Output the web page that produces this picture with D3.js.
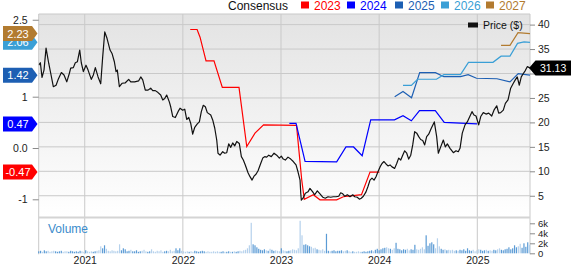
<!DOCTYPE html>
<html><head><meta charset="utf-8">
<script src="https://cdn.jsdelivr.net/npm/d3@7"></script>
<style>body{margin:0;background:#fff;}svg{display:block;font-family:"Liberation Sans",Arial,sans-serif;}</style>
</head><body><svg id="c" width="571" height="264"></svg>
<script>
// ---- data (time in decimal years) ----
const priceData = [[2020.531,31.7],[2020.548,32.2],[2020.565,29.2],[2020.585,30.7],[2020.606,35.2],[2020.633,32.1],[2020.654,30.0],[2020.680,27.3],[2020.708,27.6],[2020.728,28.7],[2020.762,30.2],[2020.789,29.7],[2020.817,28.3],[2020.843,30.0],[2020.857,31.1],[2020.884,31.2],[2020.904,32.2],[2020.925,32.4],[2020.949,34.8],[2020.965,32.2],[2020.986,30.4],[2021.013,31.7],[2021.034,30.7],[2021.067,28.8],[2021.088,29.7],[2021.108,31.2],[2021.136,29.3],[2021.163,27.9],[2021.183,33.4],[2021.204,38.5],[2021.227,37.2],[2021.258,34.8],[2021.278,34.1],[2021.302,32.4],[2021.319,30.4],[2021.332,30.7],[2021.353,27.3],[2021.380,28.0],[2021.414,28.1],[2021.448,28.8],[2021.469,28.3],[2021.509,28.3],[2021.550,28.5],[2021.571,29.3],[2021.591,28.7],[2021.617,26.6],[2021.645,26.6],[2021.672,27.0],[2021.693,26.5],[2021.719,26.5],[2021.747,26.1],[2021.774,25.6],[2021.795,24.6],[2021.815,24.9],[2021.835,25.6],[2021.862,24.2],[2021.876,23.2],[2021.897,21.2],[2021.923,21.0],[2021.951,22.2],[2021.971,22.9],[2021.998,22.5],[2022.019,22.7],[2022.039,20.6],[2022.060,21.0],[2022.080,19.8],[2022.100,17.6],[2022.121,19.0],[2022.147,19.7],[2022.168,20.1],[2022.188,22.2],[2022.208,23.5],[2022.229,23.2],[2022.249,22.0],[2022.284,21.5],[2022.304,20.5],[2022.325,18.8],[2022.345,16.4],[2022.358,13.7],[2022.379,13.3],[2022.406,14.0],[2022.426,13.7],[2022.447,13.8],[2022.467,15.6],[2022.488,14.9],[2022.508,15.8],[2022.528,15.2],[2022.549,16.1],[2022.575,15.7],[2022.596,13.0],[2022.616,12.3],[2022.636,11.3],[2022.664,9.7],[2022.684,8.9],[2022.705,8.2],[2022.725,9.0],[2022.745,9.4],[2022.766,10.1],[2022.793,11.6],[2022.814,12.7],[2022.834,13.0],[2022.854,12.9],[2022.875,13.3],[2022.901,13.0],[2022.929,13.7],[2022.956,13.3],[2022.983,12.7],[2023.003,13.1],[2023.023,12.5],[2023.044,12.3],[2023.071,12.9],[2023.099,12.5],[2023.125,12.0],[2023.153,11.3],[2023.173,9.9],[2023.194,8.2],[2023.201,5.5],[2023.207,4.1],[2023.224,4.5],[2023.248,5.5],[2023.275,5.8],[2023.295,6.5],[2023.323,5.8],[2023.343,5.2],[2023.370,6.0],[2023.397,5.4],[2023.425,4.7],[2023.451,4.5],[2023.479,4.8],[2023.506,4.7],[2023.533,4.8],[2023.560,4.8],[2023.588,4.9],[2023.608,5.6],[2023.629,5.4],[2023.649,4.9],[2023.676,5.2],[2023.703,4.8],[2023.731,5.2],[2023.751,4.8],[2023.777,4.7],[2023.798,4.3],[2023.818,4.5],[2023.839,4.9],[2023.866,5.8],[2023.886,6.9],[2023.907,8.2],[2023.927,8.6],[2023.948,8.2],[2023.968,8.9],[2023.988,9.9],[2024.009,10.9],[2024.029,11.6],[2024.049,12.0],[2024.070,11.5],[2024.090,11.1],[2024.111,11.3],[2024.131,10.9],[2024.158,10.6],[2024.179,11.6],[2024.199,12.7],[2024.220,12.3],[2024.240,13.3],[2024.260,14.2],[2024.281,13.7],[2024.301,12.5],[2024.322,13.3],[2024.342,15.4],[2024.362,18.1],[2024.383,17.8],[2024.403,17.1],[2024.423,16.5],[2024.444,16.3],[2024.464,15.4],[2024.484,17.1],[2024.505,17.6],[2024.531,18.8],[2024.562,20.1],[2024.586,17.1],[2024.603,13.7],[2024.627,15.0],[2024.654,16.4],[2024.674,15.0],[2024.695,15.6],[2024.722,14.7],[2024.756,13.8],[2024.783,14.2],[2024.806,14.0],[2024.824,14.7],[2024.847,17.8],[2024.875,19.5],[2024.898,20.1],[2024.926,21.3],[2024.946,22.2],[2024.966,21.5],[2024.987,21.3],[2025.014,19.5],[2025.035,21.2],[2025.061,22.0],[2025.089,21.7],[2025.116,21.9],[2025.147,21.3],[2025.170,22.5],[2025.198,23.4],[2025.218,21.9],[2025.238,22.0],[2025.265,22.5],[2025.286,23.9],[2025.313,24.6],[2025.340,27.0],[2025.367,28.0],[2025.387,28.7],[2025.407,29.3],[2025.428,27.6],[2025.448,29.3],[2025.469,30.0],[2025.489,30.6],[2025.509,31.4],[2025.537,31.13]];

const eps2023 = [[2022.075,2.31],[2022.145,2.31],[2022.175,2.16],[2022.236,1.70],[2022.317,1.70],[2022.402,1.18],[2022.572,1.18],[2022.651,0.03],[2022.735,0.29],[2022.822,0.45],[2023.158,0.44],[2023.211,-0.62],[2023.237,-1.00],[2023.329,-0.91],[2023.397,-1.01],[2023.567,-1.01],[2023.635,-0.95],[2023.820,-0.91],[2023.907,-0.47],[2024.002,-0.47]];
const eps2024 = [[2023.085,0.48],[2023.153,0.48],[2023.245,-0.26],[2023.567,-0.27],[2023.662,0.02],[2023.739,0.02],[2023.827,-0.15],[2023.914,0.55],[2024.156,0.55],[2024.243,0.63],[2024.328,0.53],[2024.411,0.73],[2024.572,0.73],[2024.663,0.50],[2024.997,0.47]];
const eps2025 = [[2024.158,1.00],[2024.243,1.10],[2024.330,0.98],[2024.413,1.47],[2024.574,1.47],[2024.659,1.39],[2024.829,1.39],[2024.907,1.43],[2024.992,1.36],[2025.201,1.35],[2025.333,1.29],[2025.417,1.45],[2025.537,1.42]];
const eps2026 = [[2024.243,1.22],[2024.328,1.22],[2024.391,1.34],[2024.584,1.34],[2024.659,1.43],[2024.829,1.43],[2024.910,1.67],[2025.160,1.67],[2025.242,1.79],[2025.333,1.79],[2025.410,2.04],[2025.476,2.07],[2025.537,2.06]];
const eps2027 = [[2025.242,2.00],[2025.333,2.00],[2025.415,2.25],[2025.537,2.23]];

const seriesNames = ["2023","2024","2025","2026","2027"];
const seriesColors = ["#ff0000","#0000ff","#1d5fb3","#3a9fd6","#b27b30"];
const lastEps = ["-0.47","0.47","1.42","2.06","2.23"];
const lastEpsVal = [-0.47,0.47,1.42,2.06,2.23];
const lastPrice = 31.13;

// weekly volume (thousands), first week at 2020.531
const volStart = 2020.531, volWeek = 1/52.18;
const volume = [0.4,0.5,0.3,0.6,0.4,0.5,0.3,0.4,0.5,0.4,0.3,0.4,0.5,0.3,0.4,0.4,0.3,0.5,0.4,0.3,
0.4,0.3,0.5,0.4,0.3,0.6,0.4,0.3,0.4,0.3,0.4,0.5,0.6,1.4,1.0,1.6,0.9,0.5,0.4,0.6,
0.5,0.4,0.5,1.8,0.6,1.0,0.8,0.4,0.5,0.7,0.4,0.4,0.6,0.3,0.4,0.5,0.7,0.4,0.3,0.4,
0.8,0.4,0.3,0.5,0.4,0.6,0.3,0.4,0.5,0.4,0.7,0.4,0.5,1.0,0.6,1.0,0.5,0.4,0.3,0.4,
0.3,0.4,0.3,0.5,0.4,0.3,0.4,0.5,0.4,0.3,0.4,0.3,0.3,0.4,0.3,0.4,0.3,0.3,0.4,0.3,
0.3,0.4,0.3,0.3,0.4,0.3,0.4,0.5,0.4,0.6,0.7,1.0,1.6,6.1,1.8,1.6,1.2,0.9,0.7,0.6,
0.8,0.6,0.5,0.9,0.7,0.5,0.6,0.5,0.4,1.0,0.6,0.5,0.4,0.5,0.6,0.8,0.7,0.6,1.0,6.5,
3.6,1.7,1.8,1.6,1.4,1.3,1.0,1.1,0.8,0.7,0.6,0.8,0.5,3.9,0.5,0.4,0.5,0.6,0.4,0.5,
0.5,0.6,0.4,0.5,0.6,0.4,0.3,0.4,0.3,0.3,0.4,0.3,0.3,0.4,0.3,0.4,0.5,0.6,0.4,0.7,
0.9,0.6,0.8,1.0,1.1,1.2,1.0,0.9,0.7,1.0,2.1,0.9,0.8,0.6,0.8,0.7,0.9,0.6,0.8,0.7,
1.7,0.8,0.7,0.9,1.2,0.8,3.6,1.5,2.0,2.2,1.8,1.0,3.0,1.4,0.9,0.7,0.8,0.6,0.7,0.6,
0.7,0.5,0.6,0.5,0.7,0.6,0.8,0.5,1.0,0.6,0.5,0.7,0.4,0.6,0.8,0.7,0.5,0.6,0.7,0.5,
0.6,0.5,0.7,0.6,0.8,1.0,0.7,0.6,0.8,0.9,1.2,0.8,1.0,1.6,1.2,1.4,1.9,1.1,2.0,1.3,2.2,1.7];

const years = [2021,2022,2023,2024,2025];
const priceTicks = [5,10,15,20,25,30,35,40];
const priceTickLabels = ["5","10","15","20","25","","35","40"]; // 30 hidden under the price badge
const epsTicks = [-1,0,1,2.5];
const epsTickLabels = ["-1","0.0","1","2.5"];
const volTicks = [0,2,4,6];
const volTickLabels = ["0","2k","4k","6k"];

// ---- layout ----
const L = 38.7, R = 530, T = 14, MB = 217, VB = 253.3;
const svg = d3.select("#c");
const x = d3.scaleLinear().domain([2020.531, 2025.537]).range([L, R]);
const yP = d3.scaleLinear().domain([0, 40]).range([220.2, 24.6]);
const yE = d3.scaleLinear().domain([-1, 1]).range([199.3, 96.7]);
const yV = d3.scaleLinear().domain([0, 6]).range([VB, VB - 30]);

const defs = svg.append("defs");
const g = defs.append("linearGradient").attr("id","bg").attr("x1",0).attr("y1",0).attr("x2",0).attr("y2",1);
g.append("stop").attr("offset","0%").attr("stop-color","#e3e3e3");
g.append("stop").attr("offset","100%").attr("stop-color","#ffffff");
defs.append("clipPath").attr("id","clipM").append("rect").attr("x",L).attr("y",T).attr("width",R-L).attr("height",MB-T);

svg.append("rect").attr("x",L).attr("y",T).attr("width",R-L).attr("height",MB-T).attr("fill","url(#bg)");

const gridC = "#c9c9c9";
svg.append("g").selectAll("line").data(priceTicks).join("line")
  .attr("x1",L).attr("x2",R).attr("y1",d=>yP(d)).attr("y2",d=>yP(d))
  .attr("stroke",gridC).attr("stroke-width",1);
svg.append("g").selectAll("line").data(years).join("line")
  .attr("x1",d=>x(d)).attr("x2",d=>x(d)).attr("y1",T).attr("y2",VB+1)
  .attr("stroke",gridC).attr("stroke-width",1);
// borders
svg.append("line").attr("x1",L).attr("x2",R).attr("y1",T).attr("y2",T).attr("stroke",gridC);
svg.append("line").attr("x1",L).attr("x2",L).attr("y1",T).attr("y2",VB+1).attr("stroke",gridC);
svg.append("line").attr("x1",R).attr("x2",R).attr("y1",T).attr("y2",VB+1).attr("stroke",gridC);
svg.append("line").attr("x1",L).attr("x2",R).attr("y1",MB+0.5).attr("y2",MB+0.5).attr("stroke","#d4d4d4").attr("stroke-width",2);

// volume bars
const priceAt = t => {
  const i = d3.bisector(d=>d[0]).left(priceData, t);
  if (i<=0) return priceData[0][1];
  if (i>=priceData.length) return priceData[priceData.length-1][1];
  const a = priceData[i-1], b = priceData[i];
  return a[1] + (b[1]-a[1])*(t-a[0])/(b[0]-a[0]);
};
const volData = volume.map((v,i)=>({t: volStart + i*volWeek, v}));
svg.append("g").selectAll("rect").data(volData).join("rect")
  .attr("x",d=>x(d.t)-0.6).attr("width",1.2)
  .attr("y",d=>yV(d.v)).attr("height",d=>VB-yV(d.v))
  .attr("fill",d=> priceAt(d.t) >= priceAt(d.t - volWeek) ? "#5b9bd5" : "#b5d1ec");

svg.append("text").attr("x",48).attr("y",233).attr("font-size",12).attr("fill","#3a8bcb").text("Volume");

// lines
const lineG = svg.append("g").attr("clip-path","url(#clipM)");
const eLine = d3.line().x(d=>x(d[0])).y(d=>yE(d[1]));
[eps2023,eps2024,eps2025,eps2026,eps2027].forEach((s,i)=>{
  lineG.append("path").datum(s).attr("d",eLine).attr("fill","none")
    .attr("stroke",seriesColors[i]).attr("stroke-width",1.2);
});
lineG.append("path").datum(priceData).attr("d",d3.line().x(d=>x(d[0])).y(d=>yP(d[1])))
  .attr("fill","none").attr("stroke","#111").attr("stroke-width",1.2).attr("stroke-linejoin","round");

// axes
function styleAxis(sel, fs){
  sel.select(".domain").remove();
  sel.selectAll(".tick line").attr("stroke","#8a8a8a");
  sel.selectAll(".tick text").attr("fill","#222").attr("font-size",fs||10.5).attr("font-family","'Liberation Sans',Arial,sans-serif");
}
svg.append("g").attr("transform",`translate(${R},0)`)
  .call(d3.axisRight(yP).tickValues(priceTicks).tickFormat((d,i)=>priceTickLabels[i]).tickSize(5).tickPadding(3)).call(styleAxis);
svg.append("g").attr("transform",`translate(${R},0)`)
  .call(d3.axisRight(yV).tickValues(volTicks).tickFormat((d,i)=>volTickLabels[i]).tickSize(5).tickPadding(3)).call(styleAxis, 9.5);
svg.append("g").attr("transform",`translate(${L},0)`)
  .call(d3.axisLeft(yE).tickValues(epsTicks).tickFormat((d,i)=>epsTickLabels[i]).tickSize(6).tickPadding(5)).call(styleAxis);
const xa = svg.append("g").attr("transform",`translate(0,${VB+1})`)
  .call(d3.axisBottom(x).tickValues(years).tickFormat(d3.format("d")).tickSize(0)).call(styleAxis);
xa.selectAll(".tick text").attr("y",9.2).attr("dy",0);

// top legend
const lg = svg.append("g");
lg.append("text").attr("x",228).attr("y",9.5).attr("font-size",12).attr("fill","#111").text("Consensus");
const legX = [301,347,395,441,486];
seriesNames.forEach((n,i)=>{
  lg.append("rect").attr("x",legX[i]).attr("y",1.5).attr("width",8).attr("height",7).attr("fill",seriesColors[i]);
  lg.append("text").attr("x",legX[i]+13).attr("y",9.5).attr("font-size",12).attr("fill",seriesColors[i]).text(n);
});
// price legend
svg.append("rect").attr("x",468).attr("y",22.5).attr("width",10).attr("height",5).attr("fill","#111");
svg.append("text").attr("x",483).attr("y",28.5).attr("font-size",10.5).attr("fill","#111").text("Price ($)");

// left badges (draw order so 2.23 is on top)
const order = [2,1,0,3,4];
order.forEach(i=>{
  const cy = yE(lastEpsVal[i]);
  svg.append("path").attr("d",`M3,${cy-7.5}H32L37.5,${cy}L32,${cy+7.5}H3Z`).attr("fill",seriesColors[i]);
  svg.append("text").attr("x",18).attr("y",cy+4).attr("text-anchor","middle")
    .attr("font-size",11).attr("fill","#fff").text(lastEps[i]);
});
// right price badge
const py = yP(lastPrice);
svg.append("path").attr("d",`M529,${py}L535.5,${py-7.5}H571V${py+7.5}H535.5Z`).attr("fill","#000");
svg.append("text").attr("x",540).attr("y",py+4).attr("font-size",10.5).attr("fill","#fff").text(lastPrice.toFixed(2));
</script></body></html>
